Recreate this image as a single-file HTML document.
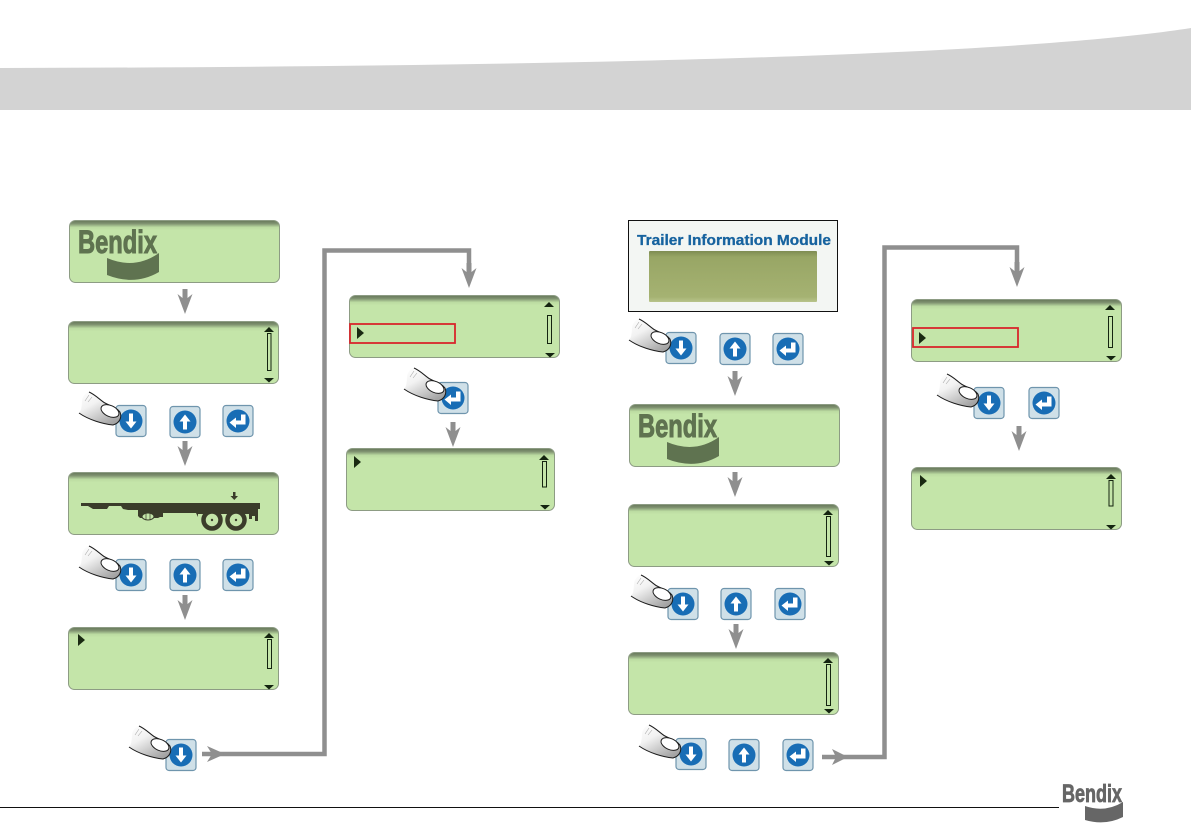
<!DOCTYPE html>
<html>
<head>
<meta charset="utf-8">
<style>
html,body{margin:0;padding:0;background:#fff}
svg{display:block}
text{font-family:"Liberation Sans",sans-serif;font-weight:bold}
</style>
</head>
<body>
<svg xmlns="http://www.w3.org/2000/svg" width="1191" height="839" viewBox="0 0 1191 839">
<defs>
<linearGradient id="lcd" x1="0" y1="0" x2="0" y2="1">
<stop offset="0" stop-color="#67775a"/><stop offset="0.05" stop-color="#7f9270"/><stop offset="0.11" stop-color="#bcdca2"/><stop offset="0.16" stop-color="#c4e5a9"/><stop offset="1" stop-color="#c4e5a9"/>
</linearGradient>
<linearGradient id="fin" x1="0" y1="0" x2="0.7" y2="1">
<stop offset="0" stop-color="#fff"/><stop offset="0.4" stop-color="#f2f2f2"/><stop offset="1" stop-color="#a4a4a4"/>
</linearGradient>
<linearGradient id="tim" x1="0" y1="0" x2="0" y2="1">
<stop offset="0" stop-color="#7e8c52"/><stop offset="0.12" stop-color="#98a665"/><stop offset="0.9" stop-color="#a5b272"/><stop offset="1" stop-color="#b8c48a"/>
</linearGradient>
<g id="panel"><rect x="0.5" y="0.5" width="210" height="62" rx="6" fill="url(#lcd)" stroke="#8d9c84"/></g>
<g id="btn"><rect x="-15" y="-15.500" width="30" height="31" rx="3" fill="#cfe0e8" stroke="#6f95ad" stroke-width="1.200"/><circle r="11.500" fill="#186db5"/></g>
<g id="bd"><use href="#btn"/><path d="M-2-7.500H2V.5H5.500L0 7.500-5.500 .5H-2Z" fill="#fff"/></g>
<g id="bu"><use href="#btn"/><path d="M-2 7.500H2V-.5H5.500L0-7.500-5.500-.5H-2Z" fill="#fff"/></g>
<g id="be"><use href="#btn"/><path d="M3-6.500H7.500V3.500H-2V7L-8.500 1.500-2-3.500V-.5H3Z" fill="#fff"/></g>
<g id="finger">
<path d="M-42-29C-35-26-30-20-26-18C-20-15-14-13-11-9C-9-4-11 2-18 4C-28 3-42-1-52-8C-48-12-50-20-48-24C-46-27-44-29-42-29Z" fill="url(#fin)"/>
<path d="M-42-29C-35-26-30-20-26-18C-20-15-14-13-11-9C-9-4-11 2-18 4C-28 3-42-1-52-8" fill="none" stroke="#1c1c1c" stroke-width="1"/>
<ellipse cx="-21" cy="-10" rx="9.500" ry="5.500" transform="rotate(24 -21 -10)" fill="#fff" stroke="#1c1c1c" stroke-width="1"/>
<path d="M-46-20L-42-26M-43-19L-39-24" stroke="#aaa" stroke-width=".6" fill="none"/>
</g>
<path id="ad" d="M-2.500-25H2.500V-16L7.500-20L0 0-7.500-20L-2.500-16Z" fill="#8f8f8f"/>
<path id="sb" d="M-5 5L0 0 5 5Z" fill="#142410"/>
<path id="sd" d="M-5 0H5L0 4.500Z" fill="#142410"/>
<path id="cur" d="M0 0L7 6 0 12Z" fill="#1a2a12"/>
</defs>

<path d="M0 68C500 67 1000 58 1191 28V110H0Z" fill="#d3d3d3"/>

<!-- left column -->
<use href="#panel" x="69" y="220"/>
<text x="78" y="253" font-size="32" fill="#5f7350" stroke="#5f7350" stroke-width="1" textLength="79" lengthAdjust="spacingAndGlyphs">Bendix</text>
<path d="M107 258Q135 270 159 253V272Q135 286 107 275Z" fill="#5f7350"/>
<use href="#ad" x="185" y="314"/>
<use href="#panel" x="68" y="321"/>
<use href="#sb" x="269" y="327"/><rect x="267.500" y="333.500" width="3.500" height="37" fill="none" stroke="#142410"/><use href="#sd" x="269" y="378"/>
<use href="#bd" x="131" y="421"/><use href="#bu" x="185" y="422"/><use href="#be" x="238" y="421"/><use href="#finger" x="131" y="421"/>
<use href="#ad" x="185" y="466"/>
<use href="#panel" x="68" y="472"/>
<path d="M81 503H260V509H258V521H255V516H252V519H249V514H198V517L196 513H163V517H160L158 518H140L138 516V510H128L123 509 121 506H109L107 509H93L88 506H81Z" fill="#3a3c2a"/>
<ellipse cx="148" cy="516.500" rx="6" ry="3.500" fill="#c4e5a9" stroke="#3a3c2a" stroke-width="1"/>
<path d="M146 513V520M150 513V520" stroke="#3a3c2a" stroke-width=".7"/>
<circle cx="212" cy="520" r="8.500" fill="#c4e5a9" stroke="#3a3c2a" stroke-width="4.500"/><circle cx="212" cy="520" r="1.200" fill="#3a3c2a"/>
<circle cx="236" cy="520" r="8.500" fill="#c4e5a9" stroke="#3a3c2a" stroke-width="4.500"/><circle cx="236" cy="520" r="1.200" fill="#3a3c2a"/>
<path d="M233 492H235.500V496H238L234.300 500 230.500 496H233Z" fill="#3a3c2a"/>
<use href="#bd" x="131" y="575"/><use href="#bu" x="185" y="575"/><use href="#be" x="238" y="575"/><use href="#finger" x="131" y="575"/>
<use href="#ad" x="185" y="620"/>
<use href="#panel" x="68" y="627"/>
<use href="#cur" x="78" y="634"/>
<use href="#sb" x="269" y="633"/><rect x="267.500" y="639.500" width="4" height="29" fill="none" stroke="#142410"/><use href="#sd" x="269" y="685"/>
<use href="#bd" x="181" y="755"/><use href="#finger" x="181" y="755"/>

<!-- left connector -->
<path d="M202 754H324.500V250.500H469V272" fill="none" stroke="#8f8f8f" stroke-width="4.500"/>
<path d="M207 746L225 754 207 762 212 754Z" fill="#8f8f8f"/>
<use href="#ad" x="469" y="288"/>

<!-- middle left -->
<use href="#panel" x="349" y="295"/>
<use href="#sb" x="549" y="302"/><rect x="547.500" y="315.500" width="4" height="28" fill="none" stroke="#142410"/><use href="#sd" x="550" y="353"/>
<rect x="350" y="324" width="105" height="19" fill="none" stroke="#d8262c" stroke-width="1.800"/>
<use href="#cur" x="357" y="327"/>
<use href="#be" x="453" y="398"/><use href="#finger" x="456" y="397"/>
<use href="#ad" x="453" y="447"/>
<rect x="346.500" y="448.500" width="208" height="62" rx="6" fill="url(#lcd)" stroke="#8d9c84"/>
<use href="#cur" x="354" y="456"/>
<use href="#sb" x="544" y="455"/><rect x="542.500" y="461.500" width="4" height="25.500" fill="none" stroke="#142410"/><use href="#sd" x="545" y="505"/>

<!-- right column -->
<rect x="628.500" y="220.500" width="209" height="91" fill="#f3f6f3" stroke="#111" stroke-width="1"/>
<text x="637" y="245" font-size="15" fill="#17639f" stroke="#17639f" stroke-width=".3" textLength="194" lengthAdjust="spacingAndGlyphs">Trailer Information Module</text>
<rect x="649" y="251" width="168" height="51" rx="1" fill="url(#tim)"/>
<use href="#bd" x="681" y="348"/><use href="#bu" x="735" y="349"/><use href="#be" x="788" y="349"/><use href="#finger" x="681" y="348"/>
<use href="#ad" x="735" y="396"/>
<use href="#panel" x="629" y="404"/>
<text x="638" y="437" font-size="32" fill="#5f7350" stroke="#5f7350" stroke-width="1" textLength="79" lengthAdjust="spacingAndGlyphs">Bendix</text>
<path d="M667 442Q695 454 719 437V456Q695 470 667 459Z" fill="#5f7350"/>
<use href="#ad" x="735" y="497"/>
<use href="#panel" x="628" y="504"/>
<use href="#sb" x="828" y="510"/><rect x="826.500" y="516.500" width="4" height="40" fill="none" stroke="#142410"/><use href="#sd" x="829" y="561"/>
<use href="#bd" x="683" y="604"/><use href="#bu" x="736" y="604"/><use href="#be" x="790" y="604"/><use href="#finger" x="683" y="604"/>
<use href="#ad" x="736" y="649"/>
<use href="#panel" x="628" y="652"/>
<use href="#sb" x="828" y="658"/><rect x="826.500" y="664.500" width="4" height="41" fill="none" stroke="#142410"/><use href="#sd" x="829" y="709"/>
<use href="#bd" x="691" y="754"/><use href="#bu" x="744" y="755"/><use href="#be" x="798" y="755"/><use href="#finger" x="691" y="754"/>

<!-- right connector -->
<path d="M822 757H884.500V247.500H1017V272" fill="none" stroke="#8f8f8f" stroke-width="4.500"/>
<path d="M832 749L848 757 832 765 836 757Z" fill="#8f8f8f"/>
<use href="#ad" x="1017" y="287"/>

<!-- right middle -->
<use href="#panel" x="911" y="299"/>
<use href="#sb" x="1110" y="305"/><rect x="1108.500" y="316.500" width="4" height="31" fill="none" stroke="#142410"/><use href="#sd" x="1111" y="356"/>
<rect x="913" y="328" width="105" height="19" fill="none" stroke="#d8262c" stroke-width="1.800"/>
<use href="#cur" x="919" y="332"/>
<use href="#bd" x="989" y="403"/><use href="#be" x="1044" y="403"/><use href="#finger" x="989" y="403"/>
<use href="#ad" x="1019" y="451"/>
<use href="#panel" x="911" y="467"/>
<use href="#cur" x="920" y="475"/>
<use href="#sb" x="1111" y="474"/><rect x="1109" y="480.500" width="4" height="25.500" fill="none" stroke="#142410"/><use href="#sd" x="1111" y="525"/>

<!-- footer -->
<rect x="0" y="807" width="1059" height="1" fill="#111"/>
<text x="1062" y="802" font-size="25" fill="#666" stroke="#666" stroke-width=".8" textLength="60" lengthAdjust="spacingAndGlyphs">Bendix</text>
<path d="M1085 806Q1105 813 1123 802V817Q1105 826 1085 820Z" fill="#666"/>
</svg>
</body>
</html>
